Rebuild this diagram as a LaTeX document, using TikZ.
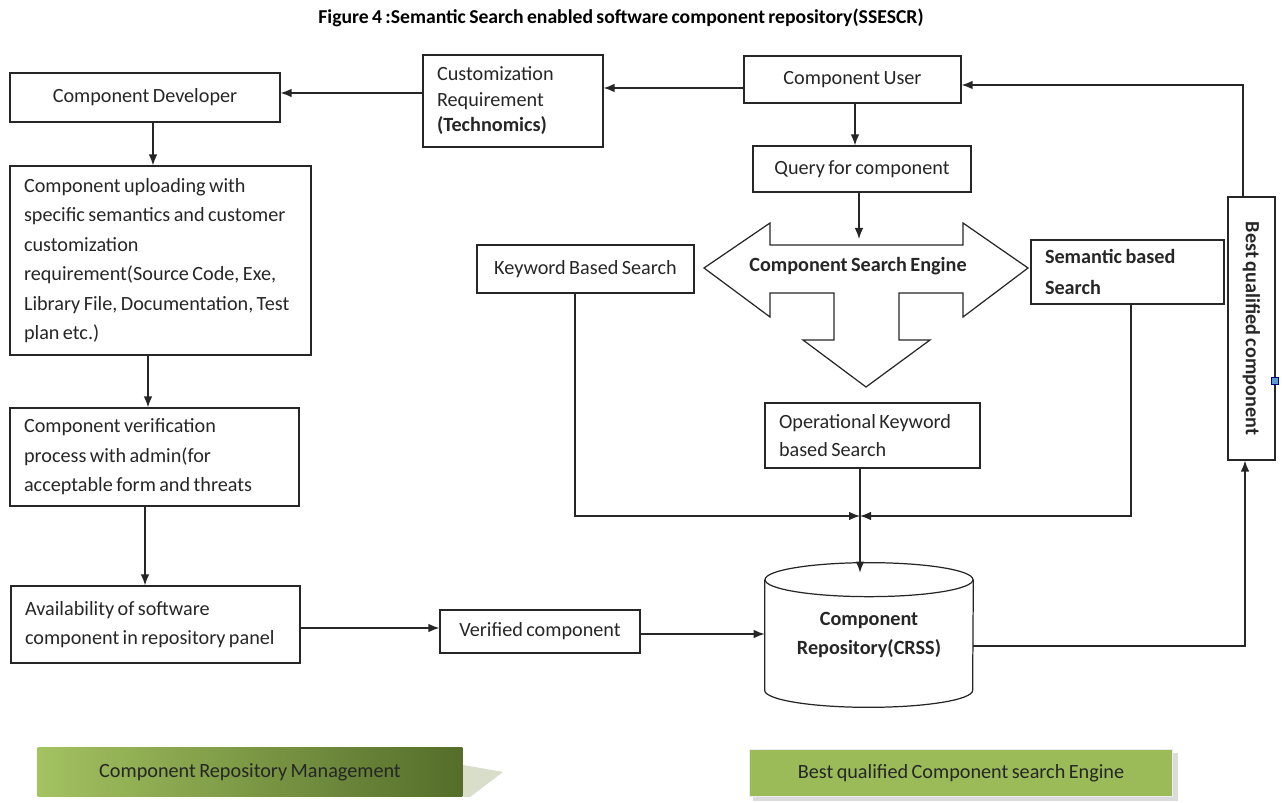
\documentclass[tikz,border=0pt]{standalone}
\usepackage{fontspec}
\setmainfont{Carlito}[WordSpace=0.75]
\usetikzlibrary{arrows.meta}
\definecolor{inkgrey}{RGB}{38,38,38}
\definecolor{bannerlight}{RGB}{163,194,96}
\definecolor{bannerdark}{RGB}{84,110,42}
\definecolor{bannerflat}{RGB}{155,187,89}
\definecolor{bannershade}{RGB}{216,222,202}
\definecolor{handleblue}{RGB}{91,155,213}
\tikzset{
  box/.style={draw=inkgrey, line width=0.7pt, inner sep=0pt, text=inkgrey, font=\fontsize{11.5}{16.8}\selectfont},
  leftbox/.style={box, align=left, inner xsep=0.28cm, execute at begin node={\spaceskip=0.17em plus 0.04em\relax}},
  drum/.style={inner sep=0pt, text=inkgrey, align=center, font=\fontsize{11.5}{16.8}\selectfont\bfseries},
  drumline/.style={draw=inkgrey, line width=0.7pt},
  link/.style={draw=inkgrey, line width=0.7pt, -{Latex[length=2.2mm,width=1.7mm]}},
  engine/.style={draw=inkgrey, line width=0.7pt, line join=miter},
  caption/.style={text=black, font=\fontsize{11.2}{13}\selectfont\bfseries},
  bannerbox/.style={inner sep=0pt, text=inkgrey, font=\fontsize{11.5}{14}\selectfont},
  handle/.style={draw=blue!55!black, fill=handleblue, minimum size=0.14cm, inner sep=0pt},
}

\begin{document}
\begin{tikzpicture}[x=0.02cm, y=-0.02cm]
\useasboundingbox (0,0) rectangle (1282,803);
% title
\node[caption] (title) at (621,18) {Figure 4 :Semantic Search enabled software component repository(SSESCR)};
% left column
\node[box, minimum width=5.4cm, minimum height=0.98cm] (cdev) at (145,97.5) {Component Developer};
\node[leftbox, text width=3.04cm, minimum height=1.84cm, font=\fontsize{11.5}{14.5}\selectfont] (cust) at (513,101) {Customization\\Requirement\\\textbf{(Technomics)}};
\node[leftbox, text width=5.46cm, minimum height=3.78cm] (upl) at (160.5,260.5) {Component uploading with\\specific semantics and customer\\customization\\requirement(Source Code, Exe,\\Library File, Documentation, Test\\plan etc.)};
\node[leftbox, text width=5.22cm, minimum height=1.96cm] (verif) at (154.5,457) {Component verification\\process with admin(for\\acceptable form and threats};
\node[leftbox, text width=5.22cm, minimum height=1.54cm] (avail) at (155.5,624.5) {Availability of software\\component in repository panel};
\node[box, minimum width=4.0cm, minimum height=0.86cm] (verc) at (540,631.5) {Verified component};
% right column
\node[box, minimum width=4.34cm, minimum height=0.94cm] (user) at (852.5,79.5) {Component User};
\node[box, minimum width=4.36cm, minimum height=0.92cm] (query) at (862,169) {Query for component};
\node[box, minimum width=4.34cm, minimum height=0.96cm] (kws) at (585.5,269) {Keyword Based Search};
\node[leftbox, text width=3.3cm, minimum height=1.28cm, font=\fontsize{11.5}{17.5}\selectfont\bfseries] (sem) at (1127.5,272) {Semantic based\\Search};
\node[leftbox, text width=3.74cm, minimum height=1.3cm, font=\fontsize{11.5}{16}\selectfont] (ops) at (872.5,435.5) {Operational Keyword\\based Search};
\node[drum, minimum width=4.16cm, minimum height=2.88cm] (repo) at (869,635) {Component\\Repository(CRSS)};
\draw[drumline] ([yshift=-0.34cm]repo.north) ellipse [x radius=2.08cm, y radius=0.34cm];
\draw[drumline] ([yshift=-0.34cm]repo.north west) -- ([yshift=0.34cm]repo.south west)
  arc[start angle=180, end angle=360, x radius=2.08cm, y radius=0.34cm] -- ([yshift=-0.34cm]repo.north east);
\node[box, minimum width=0.94cm, minimum height=5.26cm] (best) at (1251.5,328.5) {\rotatebox{-90}{\bfseries Best qualified component}};
\node[handle] (grip) at (1275,381) {};
% search engine arrow
\draw[engine] (704,268) -- (770,223) -- (770,245) -- (963,245) -- (963,223) -- (1028,268)
  -- (963,317) -- (963,293) -- (899,293) -- (899,340) -- (930,340) -- (866,387) -- (803,340)
  -- (834,340) -- (834,293) -- (770,293) -- (770,317) -- cycle;
\node[box, draw=none, font=\fontsize{11.5}{14}\selectfont\bfseries] (cse) at (858,266) {Component Search Engine};
\coordinate (csetop) at (859,239);
\coordinate (merge) at (860,516);
% banners
\fill[bannershade] (463,765) -- (503,772) -- (470,797) -- (463,797) -- cycle;
\node[bannerbox, minimum width=8.5cm, minimum height=0.98cm, left color=bannerlight, right color=bannerdark] (mgmt) at (250,772) {Component Repository Management};
\fill[black!14] (753,753) rectangle (1178,801);
\node[bannerbox, minimum width=8.46cm, minimum height=0.94cm, fill=bannerflat, draw=black!8, line width=1pt] (seng) at (961,773) {Best qualified Component search Engine};
% connectors
\path ([yshift=0.16cm]cust.west) coordinate (custout);
\path ([yshift=-0.17cm]user.west) coordinate (userout);
\path ([xshift=0.16cm]cdev.south) coordinate (cdevout);
\path ([xshift=-0.25cm]upl.south) coordinate (uplout);
\path ([xshift=-0.19cm]verif.south) coordinate (verifout);
\path ([yshift=-0.07cm]avail.east) coordinate (availout);
\path ([yshift=-0.05cm]verc.east) coordinate (vercout);
\path ([yshift=-0.22cm]repo.east) coordinate (repoout);
\path ([xshift=-0.21cm]kws.south) coordinate (kwsout);
\path ([xshift=0.07cm]sem.south) coordinate (semout);
\path ([xshift=-0.25cm]ops.south) coordinate (opsout);
\path ([yshift=-0.2cm]repo.north) coordinate (repoin);
\draw[link] (custout) -- (custout -| cdev.east);
\draw[link] (userout) -- (userout -| cust.east);
\draw[link] (cdevout) -- (cdevout |- upl.north);
\draw[link] (uplout) -- (uplout |- verif.north);
\draw[link] (verifout) -- (verifout |- avail.north);
\draw[link] (availout) -- (availout -| verc.west);
\draw[link] (vercout) -- (vercout -| repo.west);
\draw[link] (repoout) -| ([xshift=-0.13cm]best.south);
\draw[link] ([xshift=-0.17cm]best.north) |- ([yshift=-0.11cm]user.east);
\draw[link] ([xshift=0.05cm]user.south) -- ([xshift=0.05cm]user.south |- query.north);
\draw[link] ([xshift=-0.06cm]query.south) -- ([xshift=-0.06cm]query.south |- csetop);
\draw[link] (kwsout) |- (merge);
\draw[link] (semout) |- (merge);
\draw[link] (opsout) -- (opsout |- repoin);
\end{tikzpicture}
\end{document}
